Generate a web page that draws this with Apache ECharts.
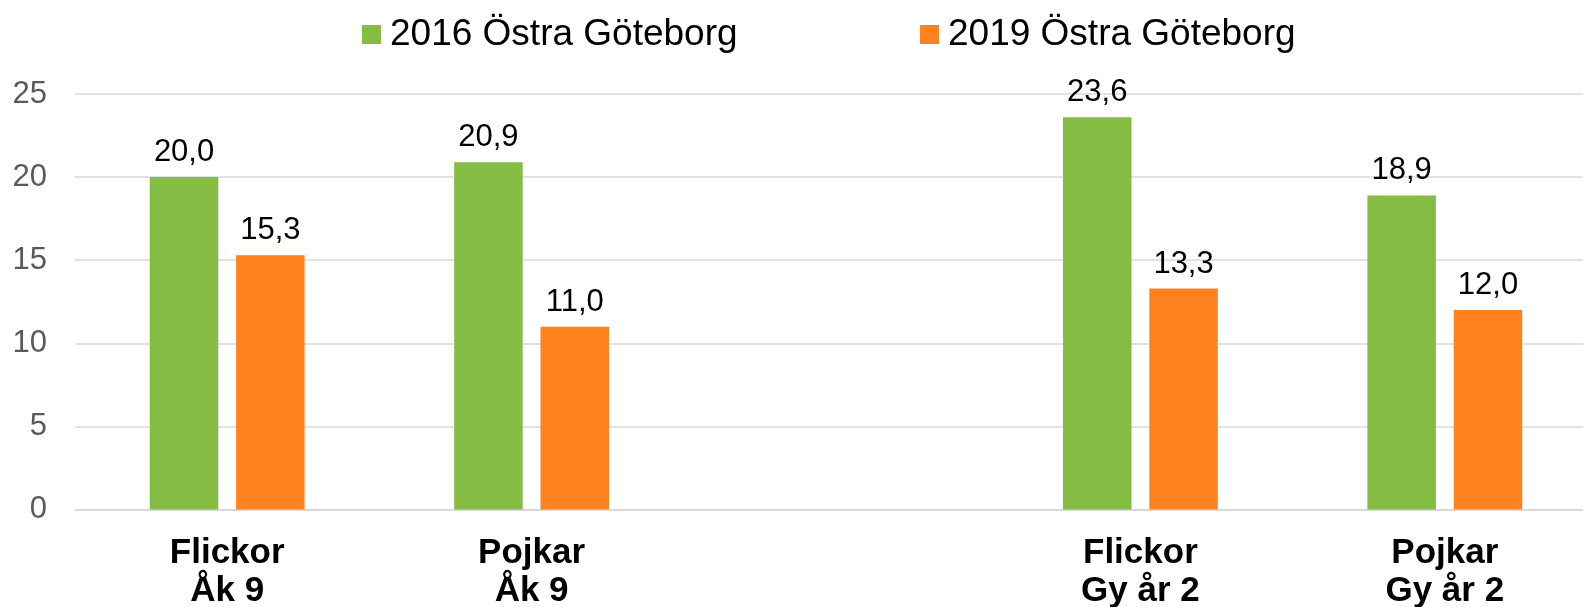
<!DOCTYPE html>
<html>
<head>
<meta charset="utf-8">
<script src="https://cdn.jsdelivr.net/npm/echarts@6/dist/echarts.min.js"></script>
<style>html,body{margin:0;padding:0;background:#fff}#c{width:1583px;height:607px}</style>
</head>
<body>
<div id="c"></div>
<script>
const categories = ['Flickor\nÅk 9', 'Pojkar\nÅk 9', '', 'Flickor\nGy år 2', 'Pojkar\nGy år 2'];
const seriesNames = ['2016 Östra Göteborg', '2019 Östra Göteborg'];
const values2016 = [20.0, 20.9, null, 23.6, 18.9];
const values2019 = [15.3, 11.0, null, 13.3, 12.0];
const yTicks = { min: 0, max: 25, interval: 5 };

const FONT = '"Liberation Sans", Arial, sans-serif';
const chart = echarts.init(document.getElementById('c'), null, { renderer: 'canvas' });
const label = {
  show: true, position: 'top', distance: 9,
  fontFamily: FONT, fontSize: 31, color: '#000',
  formatter: p => p.value == null ? '' : Number(p.value).toFixed(1).replace('.', ',')
};
chart.setOption({
  animation: false,
  backgroundColor: '#fff',
  legend: [
    { data: [seriesNames[0]], left: 357, top: 11, itemWidth: 19, itemHeight: 19, icon: 'rect',
      textStyle: { fontFamily: FONT, fontSize: 37, color: '#000', padding: [0, 0, 0, 4] } },
    { data: [seriesNames[1]], left: 915, top: 11, itemWidth: 19, itemHeight: 19, icon: 'rect',
      textStyle: { fontFamily: FONT, fontSize: 37, color: '#000', padding: [0, 0, 0, 4] } }
  ],
  grid: { left: 75, top: 94, height: 415.5, width: 1522, containLabel: false, outerBoundsMode: 'none' },
  xAxis: {
    type: 'category', data: categories,
    axisTick: { show: false },
    axisLine: { lineStyle: { color: '#d9d9d9', width: 2 } },
    axisLabel: { fontFamily: FONT, fontSize: 35, fontWeight: 'bold', color: '#000', lineHeight: 38, margin: 25, interval: 0 }
  },
  yAxis: {
    type: 'value', min: yTicks.min, max: yTicks.max, interval: yTicks.interval,
    axisLine: { show: false }, axisTick: { show: false },
    axisLabel: { fontFamily: FONT, fontSize: 31, color: '#595959', margin: 28 },
    splitLine: { lineStyle: { color: '#d9d9d9', width: 1.5 } }
  },
  series: [
    { name: seriesNames[0], type: 'bar', data: values2016, barWidth: 68.5, barGap: '26%',
      itemStyle: { color: '#84BC44' }, label: label },
    { name: seriesNames[1], type: 'bar', data: values2019, barWidth: 68.5, barGap: '26%',
      itemStyle: { color: '#FF821E' }, label: label }
  ]
});
</script>
</body>
</html>
